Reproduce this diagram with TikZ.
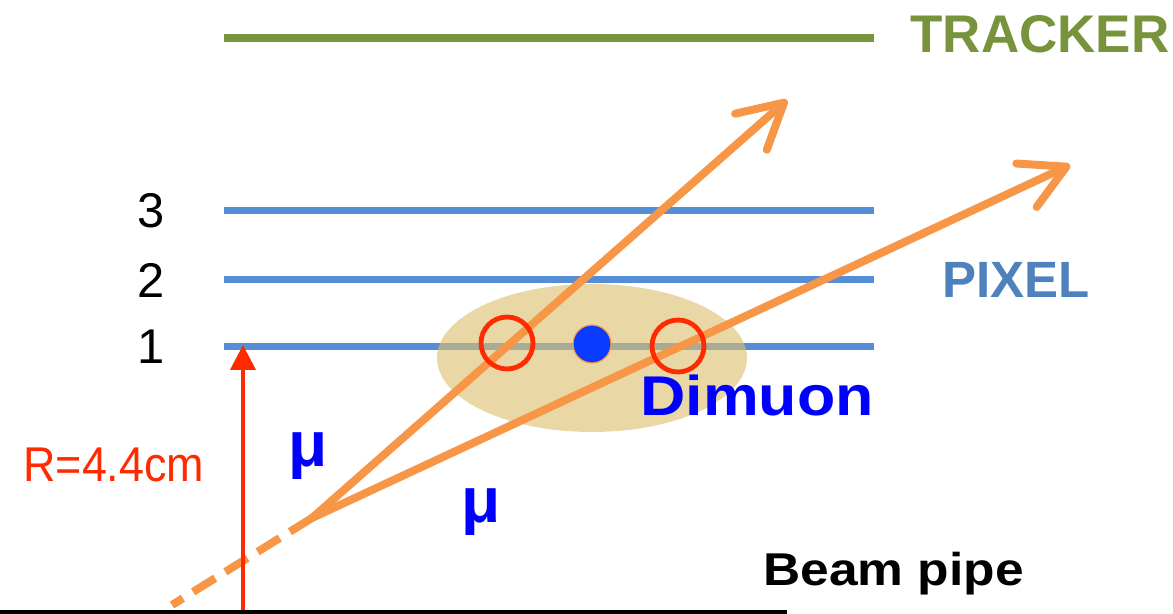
\documentclass[tikz,border=0pt]{standalone}
\usepackage{fontspec}
\setmainfont{Liberation Sans}
\newfontfamily\widesans[FakeStretch=1.12]{Liberation Sans}
\newfontfamily\narrowsans[FakeStretch=0.92]{Liberation Sans}
\usetikzlibrary{arrows.meta}
\definecolor{trkgreen}{HTML}{77933C}
\definecolor{pixblue}{HTML}{558ED5}
\definecolor{pixtext}{HTML}{4F81BD}
\definecolor{muorange}{HTML}{F79646}
\definecolor{hitred}{HTML}{FF2A00}
\definecolor{vtxtan}{HTML}{DCC070}
\definecolor{dotblue}{HTML}{0A3CFF}

\begin{document}
\begin{tikzpicture}[x=0.5pt, y=-0.5pt, every node/.style={inner sep=0pt},
	layer/.style={pixblue, line width=3.5pt},
	muon/.style={muorange, line width=4pt, line cap=round, -{Straight Barb[length=22pt,width=24pt,round]}},
	hitring/.style={circle, draw=hitred, line width=2.4pt, minimum size=26pt},
	mulabel/.style={blue, font=\fontsize{32}{34}\selectfont\bfseries}]
	\useasboundingbox (0,0) rectangle (1173,614);
	\draw[trkgreen, line width=4pt] (224,38) -- (874,38);
	\node[anchor=base west, trkgreen, font=\fontsize{26.5}{30}\selectfont\bfseries] (tracker) at (910,53) {TRACKER};
	\foreach \y/\n in {347/1, 280/2, 211/3} {
		\draw[layer] (224,\y) -- (874,\y);
		\node[font=\fontsize{24.4}{28}\selectfont] (lay\n) at (151,\y) {\n};
	}
	\node[anchor=base west, pixtext, font=\fontsize{25.5}{30}\selectfont\bfseries] (pixel) at (942,298) {PIXEL};
	\fill[vtxtan, opacity=0.62] (592,358) ellipse [x radius=77.5pt, y radius=37pt];
	\coordinate (pv) at (312,518);
	\coordinate (mu1end) at (787,100);
	\coordinate (mu2end) at (1070,165);
	\coordinate (beamlow) at (172,605);
	\draw[muorange, line width=4pt, dash pattern=on 13pt off 6pt] (pv) -- (beamlow);
	\draw[muon] (pv) -- (mu1end);
	\draw[muon] (pv) -- (mu2end);
	\node[hitring] (hit1) at (507,343) {};
	\node[hitring] (hit2) at (678,346) {};
	\node[circle, fill=dotblue, draw=muorange, line width=0.6pt, minimum size=19pt] (vtx) at (592,344) {};
	\node[anchor=base west, blue, font=\widesans\fontsize{28}{32}\selectfont\bfseries] (dimuon) at (640,416) {Dimuon};
	\node[mulabel, anchor=base] (mu1) at (308,467) {μ};
	\node[mulabel, anchor=base] (mu2) at (481,523) {μ};
	\coordinate (rbase) at (243,614);
	\coordinate (rtop) at (243,345);
	\draw[hitred, line width=2pt, -{Triangle[length=12.5pt,width=12.5pt]}] (rbase) -- (rtop);
	\node[anchor=base west, hitred, font=\narrowsans\fontsize{24.4}{28}\selectfont] (radius) at (23,482) {R=4.4cm};
	\draw[black, line width=2.2pt] (0,612) -- (787,612);
	\node[anchor=base west, font=\widesans\fontsize{23}{28}\selectfont\bfseries] (beam) at (763,585) {Beam pipe};
\end{tikzpicture}
\end{document}
